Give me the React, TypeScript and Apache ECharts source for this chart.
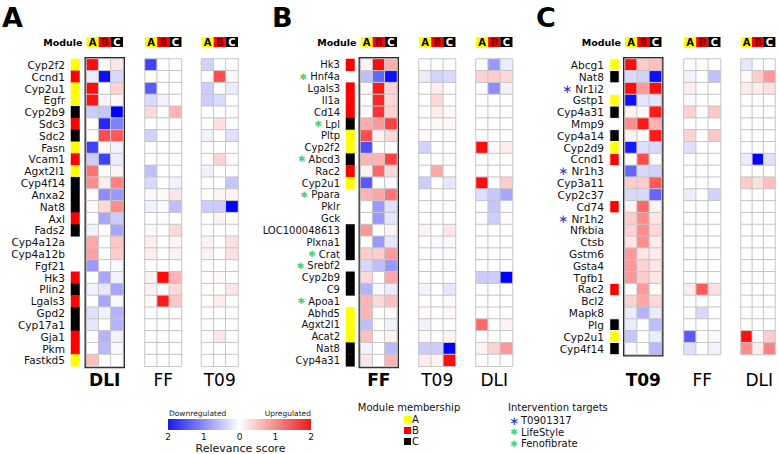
import React, { useEffect, useRef } from 'react';
import * as echarts from 'echarts';

// ---------- data ----------
const genesA = ['Cyp2f2','Ccnd1','Cyp2u1','Egfr','Cyp2b9','Sdc3','Sdc2','Fasn','Vcam1','Agxt2l1','Cyp4f14','Anxa2','Nat8','Axl','Fads2','Cyp4a12a','Cyp4a12b','Fgf21','Hk3','Plin2','Lgals3','Gpd2','Cyp17a1','Gja1','Pkm','Fastkd5'];
const moduleA = ['A','B','A','A','C','B','C','A','B','A','C','C','C','B','C','','','','B','C','B','C','C','B','B','A'];
const genesB = ['Hk3','Hnf4a','Lgals3','Il1a','Cd14','Lpl','Pltp','Cyp2f2','Abcd3','Rac2','Cyp2u1','Ppara','Pklr','Gck','LOC100048613','Plxna1','Crat','Srebf2','Cyp2b9','C9','Apoa1','Abhd5','Agxt2l1','Acat2','Nat8','Cyp4a31'];
const moduleB = ['B','','B','B','B','C','A','A','C','B','A','','','','C','C','C','','C','C','','A','A','A','C','C'];
const targetsB = ['Hnf4a','Lpl','Abcd3','Ppara','Crat','Srebf2','Apoa1'];
const genesC = ['Abcg1','Nat8','Nr1i2','Gstp1','Cyp4a31','Mmp9','Cyp4a14','Cyp2d9','Ccnd1','Nr1h3','Cyp3a11','Cyp2c37','Cd74','Nr1h2','Nfkbia','Ctsb','Gstm6','Gsta4','Tgfb1','Rac2','Bcl2','Mapk8','Plg','Cyp2u1','Cyp4f14'];
const moduleC = ['A','C','','A','C','','C','A','B','','','','B','','','','','','','B','','','C','A','C'];
const targetsC = ['Nr1i2','Nr1h3','Nr1h2'];
const moduleCols = ['A','B','C'];

const dliA = [[1.9,0.05,0.2],[-0.15,-1.9,-0.3],[1.9,0,0.35],[1.85,0.1,0.05],[-0.4,-0.45,-2],[0,-1.7,-1.0],[0,1.4,1.3],[-1.5,-0.05,-0.1],[-0.4,-1.5,-0.15],[1.1,0,0.1],[0.9,0.15,1.0],[0.05,-0.9,-0.8],[0.05,0.3,0.9],[0,-0.7,-0.4],[-0.1,0,-0.7],[0.7,0,0.45],[0.75,0,0.4],[-0.8,0,-0.05],[0,-0.7,-0.1],[-0.1,-0.2,-0.7],[0,-0.7,-0.05],[-0.25,-0.1,-0.6],[-0.2,0,-0.6],[0,-0.6,-0.1],[0,-0.55,-0.05],[0.5,0,0]];
const ffA = [[-1.5,0,0],[0,0,0],[-1.3,0,0],[-0.3,-0.1,0],[0.3,0,0.6],[0,0,0],[-0.35,0,-0.05],[0,0,0],[0,0,0],[-0.5,0,0],[-0.3,0,-0.1],[0.05,0.05,0.2],[-0.1,-0.05,-0.5],[0,0,0],[0.05,0,0.3],[0.15,0,0.1],[0.15,0,0.1],[0,0,0],[0.1,1.9,0.6],[0.1,0,0.3],[0.05,1.8,0.45],[0,0,0],[0,0,0],[0,0,0],[0,0,0],[0,0,0]];
const t09A = [[-0.35,0,0],[0,1.4,0.05],[-0.4,0,-0.15],[-0.4,-0.3,0],[0,0,0],[0,0.25,0],[-0.1,0,-0.25],[0,0,0],[0,0.35,0],[-0.1,0,0],[0,0,-0.45],[0,0.1,0.1],[-0.4,-0.4,-2],[0,0.1,0],[0,0,0],[0.1,0,0.25],[0.1,0,0.25],[0,0,0],[0,0.05,0],[0,0,0.2],[0,0.15,0],[0,0,0],[0,0,0],[0,0.2,0],[0,0,0],[0,0,0]];

const ffB = [[0.1,1.9,0.65],[-0.5,-1.2,-1.9],[0.05,1.8,0.35],[0,1.7,0.3],[0.05,1.6,0.35],[0.65,0.8,1.5],[1.4,0.1,0.3],[-1.4,0,0],[0.6,0.6,1.5],[0.1,1.2,0.3],[-1.3,0,-0.05],[0.6,0.7,1.1],[0,-0.8,-0.25],[0,-0.8,-0.2],[0.8,0,0.1],[0,-0.8,-0.2],[0.4,0.4,0.8],[-0.3,-0.5,-0.8],[0.3,0,0.7],[-0.6,-0.05,-0.15],[0.6,0.3,0.5],[0.6,0,0.05],[-0.5,0,-0.1],[0.5,0,0.1],[-0.1,0,-0.55],[0.2,0,0.6]];
const t09B = [[0,0,0],[-0.15,-0.35,-0.3],[0,0.15,0],[0,0.3,0],[0,0.15,0.05],[0,0.05,0.05],[0.05,0,0],[-0.35,0,0],[0,0,0],[0,0.7,0],[-0.4,0,-0.2],[0,0,0],[0,0,0],[0,0,0],[0.1,0,0.2],[0,-0.05,-0.05],[0,0,0],[0,0,0],[0,0,0],[-0.1,0,-0.2],[0,0,0.05],[0.05,0,0.05],[-0.1,0,0],[0.05,0,0.1],[-0.4,-0.4,-2],[0.15,0.1,1.9]];
const dliB = [[0,-0.8,-0.15],[0.35,0.4,0.3],[0,-0.9,-0.1],[0,0,0],[0,0,0],[0,0,0],[0,0,0],[1.9,0.05,0.15],[0,0,0],[0,0,0],[1.9,0,0.4],[-0.25,-0.45,-0.7],[0,-0.45,-0.05],[0,-0.4,0],[0,0,0],[0,0,0],[0,0,0],[0,0,0],[-0.4,-0.4,-2],[0,0,0],[0,0,0],[0,0,0],[1.2,0,0.1],[0,0,0],[0.1,0.35,0.8],[0,0,0]];

const t09C = [[1.9,0.4,0.5],[-0.3,-0.35,-1.9],[1.9,0.8,1.9],[-1.9,-0.2,-0.2],[0.1,0.05,1.8],[0.9,1.8,0.6],[0.1,0.05,1.8],[-1.8,-0.25,-0.3],[0,1.4,0.05],[-1.2,-0.3,-0.35],[0.4,0.4,1.3],[-0.3,-0.3,-1.2],[0.1,1.2,0.1],[0.4,0.9,0.2],[0.35,0.9,0.3],[0.2,0.9,0.15],[0.8,0.2,0.15],[0.8,0.35,0.2],[0.8,0.4,0.2],[0,0.8,0.05],[0.35,0.7,0.3],[-0.15,-0.6,-0.15],[-0.15,0,-0.5],[-0.45,0,-0.15],[-0.05,0,-0.55]];
const ffC = [[0,0,0],[-0.1,0,-0.5],[0.15,0,0],[-0.05,0,0],[0.35,0,0.45],[0,0,0],[0.35,0,0.45],[-0.25,0,0],[0,0,0],[0,0,0],[0,0,0],[-0.15,0,-0.35],[0,0,0],[0,0,0],[0,0,0],[0,0,0],[0,0,0],[0,0,0],[0,0,0],[0.15,1.3,0.25],[0,0,0],[0,-0.3,0],[0,0,0],[-1.3,0,-0.05],[-0.25,0,-0.1]];
const dliC = [[-0.2,0,0],[0.05,0.4,0.8],[0.15,0.15,0.25],[0,0,0],[0,0,0],[0,0,0],[0,0,0],[0,0,0],[-0.15,-2,-0.25],[0,0,0],[0.4,0.25,0.5],[0,0,0],[0,0,0],[0,0,0],[0,0,0],[0,0,0],[0,0,0],[0,0,0],[0,0,0],[0,0,0],[0,0,0],[0,0,0],[0,0,0],[1.9,0,0.4],[0.9,0.15,1.0]];

const moduleLegend = ['A', 'B', 'C'];
const targetLegend = [
  { name: 'T0901317', color: '#2233cc', glyph: '∗' },
  { name: 'LifeStyle', color: '#55cc77', glyph: '✱' },
  { name: 'Fenofibrate', color: '#55cc77', glyph: '✱' },
];

// ---------- styling / layout ----------
const FONT = 'DejaVu Sans';
const ROW_H = 11.82;
const TOP = 59;
const CELL_W = 36.5;
const MOD_COLORS: Record<string, string> = { A: '#ffff00', B: '#ff0000', C: '#000000' };
const MOD_CODE: Record<string, number> = { A: 0, B: 1, C: 2 };

const panels = [
  { letter: 'A', letterX: 2, genes: genesA, modules: moduleA, targets: [] as string[], star: 'g',
    moduleLeft: 71, moduleW: 8.5, lefts: [86.5, 145, 201.5], labelSize: 10.6, modBorder: 0,
    cols: [{ name: 'DLI', data: dliA }, { name: 'FF', data: ffA }, { name: 'T09', data: t09A }] },
  { letter: 'B', letterX: 272, genes: genesB, modules: moduleB, targets: targetsB, star: 'g',
    moduleLeft: 346, moduleW: 8.5, lefts: [360.5, 419, 476], labelSize: 10, modBorder: 0,
    cols: [{ name: 'FF', data: ffB }, { name: 'T09', data: t09B }, { name: 'DLI', data: dliB }] },
  { letter: 'C', letterX: 536, genes: genesC, modules: moduleC, targets: targetsC, star: 'b',
    moduleLeft: 610, moduleW: 9, lefts: [625, 684, 741], labelSize: 10.6, modBorder: 1,
    cols: [{ name: 'T09', data: t09C }, { name: 'FF', data: ffC }, { name: 'DLI', data: dliC }] },
];

function buildOption() {
  const grid: any[] = [];
  const xAxis: any[] = [];
  const yAxis: any[] = [];
  const series: any[] = [];
  const graphic: any[] = [];
  const valueSeries: number[] = [];
  const moduleSeries: number[] = [];

  const headerRich: any = {};
  moduleCols.forEach((m) => {
    headerRich[m] = {
      backgroundColor: MOD_COLORS[m],
      color: m === 'A' ? '#000' : m === 'B' ? '#7a0000' : '#fff',
      fontWeight: 'bold', fontSize: 10, fontFamily: FONT,
      width: CELL_W / 3, height: 10, lineHeight: 10, align: 'center',
    };
  });

  panels.forEach((p) => {
    const n = p.genes.length;
    const h = n * ROW_H;
    // module bar grid with gene labels
    let gi = grid.length;
    grid.push({ left: p.moduleLeft, top: TOP, width: p.moduleW, height: h });
    xAxis.push({ gridIndex: gi, type: 'category', data: ['m'], show: false });
    yAxis.push({
      gridIndex: gi, type: 'category', data: p.genes, inverse: true,
      axisLine: { show: false }, axisTick: { show: false }, splitLine: { show: false },
      axisLabel: {
        interval: 0, margin: 6, fontSize: p.labelSize, fontFamily: FONT, color: '#111', lineHeight: 11,
        formatter: (v: string) => (p.targets.includes(v) ? `{${p.star}|${p.star === 'g' ? '✱' : '∗'}} ${v}` : v),
        rich: {
          g: { color: '#55cc77', fontSize: 9, lineHeight: 11, fontFamily: FONT },
          b: { color: '#2233cc', fontSize: 12, lineHeight: 11, fontFamily: FONT },
        },
      },
    });
    moduleSeries.push(series.length);
    series.push({
      type: 'heatmap', xAxisIndex: gi, yAxisIndex: gi,
      data: p.modules.map((m, i) => (m ? [0, i, MOD_CODE[m]] : null)).filter(Boolean),
      itemStyle: { borderWidth: p.modBorder, borderColor: '#ffffff' },
    });

    p.cols.forEach((c, k) => {
      gi = grid.length;
      grid.push({
        left: p.lefts[k], top: TOP, width: CELL_W, height: h,
        show: k === 0, borderColor: '#2b2b2b', borderWidth: 4, backgroundColor: 'transparent',
      });
      xAxis.push({
        gridIndex: gi, type: 'category', data: moduleCols, position: 'top',
        axisLine: { show: false }, axisTick: { show: false }, splitLine: { show: false },
        axisLabel: { interval: 0, margin: 12, formatter: (v: string) => `{${v}|${v}}`, rich: headerRich },
      });
      yAxis.push({ gridIndex: gi, type: 'category', data: p.genes, inverse: true, show: false });
      valueSeries.push(series.length);
      const d: number[][] = [];
      c.data.forEach((row, r) => row.forEach((v, ci) => d.push([ci, r, v])));
      series.push({
        type: 'heatmap', xAxisIndex: gi, yAxisIndex: gi, data: d,
        itemStyle: { borderColor: '#c6c6c6', borderWidth: 1 },
      });
      // bottom label
      graphic.push({
        type: 'text', x: p.lefts[k] + CELL_W / 2, y: 380,
        style: {
          text: c.name, fill: '#000', fontSize: 17, fontFamily: FONT,
          fontWeight: k === 0 ? 'bold' : 'normal', textAlign: 'center', textVerticalAlign: 'middle',
        },
      });
    });

    // Module header label
    graphic.push({
      type: 'text', x: p.lefts[0] - 4, y: 42,
      style: { text: 'Module', fill: '#000', fontSize: 9.5, fontWeight: 'bold', fontFamily: FONT, textAlign: 'right', textVerticalAlign: 'middle' },
    });
    // panel letter
    graphic.push({
      type: 'text', x: p.letterX, y: 17,
      style: { text: p.letter, fill: '#000', fontSize: 27, fontWeight: 'bold', fontFamily: FONT, textAlign: 'left', textVerticalAlign: 'middle' },
    });
  });

  // colour-bar legend
  const lg = { left: 168, top: 419, width: 143, height: 11 };
  const lgi = grid.length;
  grid.push({ ...lg });
  xAxis.push({
    gridIndex: lgi, type: 'value', min: -2, max: 2, interval: 1,
    axisLine: { show: false }, axisTick: { show: false }, splitLine: { show: false },
    axisLabel: { margin: 2, fontSize: 9, fontFamily: FONT, color: '#111', formatter: (v: number) => String(Math.abs(v)) },
  });
  yAxis.push({ gridIndex: lgi, type: 'value', show: false });
  graphic.push({
    type: 'rect', shape: { x: lg.left, y: lg.top, width: lg.width, height: lg.height },
    style: {
      fill: new echarts.graphic.LinearGradient(0, 0, 1, 0, [
        { offset: 0, color: '#1a1aee' }, { offset: 0.5, color: '#ffffff' }, { offset: 1, color: '#ee1a1a' },
      ]),
    },
  });
  graphic.push({ type: 'text', x: lg.left + 1, y: 413, style: { text: 'Downregulated', fontSize: 7.5, fontFamily: FONT, fill: '#222', textAlign: 'left', textVerticalAlign: 'middle' } });
  graphic.push({ type: 'text', x: lg.left + lg.width, y: 413, style: { text: 'Upregulated', fontSize: 7.5, fontFamily: FONT, fill: '#222', textAlign: 'right', textVerticalAlign: 'middle' } });
  graphic.push({ type: 'text', x: lg.left + lg.width / 2 + 1, y: 448, style: { text: 'Relevance score', fontSize: 11, fontFamily: FONT, fill: '#111', textAlign: 'center', textVerticalAlign: 'middle' } });

  // module membership legend
  graphic.push({ type: 'text', x: 409, y: 407, style: { text: 'Module membership', fontSize: 10, fontFamily: FONT, fill: '#111', textAlign: 'center', textVerticalAlign: 'middle' } });
  moduleLegend.forEach((m, i) => {
    const y = 419.5 + i * 11;
    graphic.push({ type: 'rect', shape: { x: 404, y: y - 3.5, width: 7, height: 7 }, style: { fill: MOD_COLORS[m] } });
    graphic.push({ type: 'text', x: 412, y, style: { text: m, fontSize: 10, fontFamily: FONT, fill: '#111', textAlign: 'left', textVerticalAlign: 'middle' } });
  });

  // intervention targets legend
  graphic.push({ type: 'text', x: 508, y: 407, style: { text: 'Intervention targets', fontSize: 10, fontFamily: FONT, fill: '#111', textAlign: 'left', textVerticalAlign: 'middle' } });
  targetLegend.forEach((t, i) => {
    const y = 420.5 + i * 11.5;
    graphic.push({ type: 'text', x: 514, y, style: { text: t.glyph, fontSize: t.glyph === '∗' ? 12 : 9, fontFamily: FONT, fill: t.color, textAlign: 'center', textVerticalAlign: 'middle' } });
    graphic.push({ type: 'text', x: 521, y, style: { text: t.name, fontSize: 10, fontFamily: FONT, fill: '#111', textAlign: 'left', textVerticalAlign: 'middle' } });
  });

  return {
    animation: false,
    backgroundColor: '#ffffff',
    textStyle: { fontFamily: FONT },
    grid, xAxis, yAxis, series, graphic,
    visualMap: [
      { type: 'continuous', min: -2, max: 2, show: false, seriesIndex: valueSeries, dimension: 2,
        inRange: { color: ['#0000ff', '#ffffff', '#ff0000'] } },
      { type: 'piecewise', show: false, seriesIndex: moduleSeries, dimension: 2,
        pieces: [{ value: 0, color: MOD_COLORS.A }, { value: 1, color: MOD_COLORS.B }, { value: 2, color: MOD_COLORS.C }] },
    ],
  };
}

export default function App() {
  const ref = useRef<HTMLDivElement>(null);
  useEffect(() => {
    const chart = echarts.init(ref.current!, null, { renderer: 'svg' });
    chart.setOption(buildOption() as any);
    return () => chart.dispose();
  }, []);
  return <div ref={ref} style={{ position: 'absolute', left: 0, top: 0, width: 778, height: 454 }} />;
}
